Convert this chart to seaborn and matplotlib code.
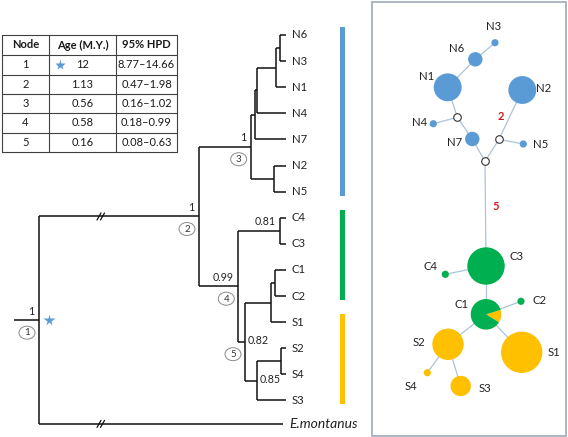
#Dated phylogeny, node age table and haplotype network.

import numpy as np
import pandas as pd
import seaborn as sns
import matplotlib
matplotlib.use("Agg")
from matplotlib import pyplot as plt
from matplotlib.patches import Wedge, Ellipse, Rectangle

# ---------------- data ----------------
table_header = ["Node", "Age (M.Y.)", "95% HPD"]
node_ids = ["1", "2", "3", "4", "5"]
node_ages = ["12", "1.13", "0.56", "0.58", "0.16"]
node_hpd = ["8.77\u201314.66", "0.47\u20131.98", "0.16\u20131.02", "0.18\u20130.99", "0.08\u20130.63"]

tips = ["N6", "N3", "N1", "N4", "N7", "N2", "N5", "C4", "C3", "C1", "C2",
        "S1", "S2", "S4", "S3", "E.montanus"]

# internal node -> (depth, children, posterior support, circled node id)
tree_nodes = {
    "root": (39, ["n2", "E.montanus"], "1", "1"),
    "n2": (199, ["n3", "n4"], "1", "2"),
    "n3": (250.7, ["a", "e"], "1", "3"),
    "a": (255, ["b", "N7"], None, None),
    "b": (257.3, ["c", "N4"], None, None),
    "c": (275.7, ["d", "N1"], None, None),
    "d": (280, ["N6", "N3"], None, None),
    "e": (274.3, ["N2", "N5"], None, None),
    "n4": (238.3, ["f", "n5"], "0.99", "4"),
    "f": (280, ["C4", "C3"], "0.81", None),
    "n5": (245, ["g", "i"], "0.82", None),
    "g": (271, ["h", "S1"], None, None),
    "h": (275, ["C1", "C2"], None, None),
    "i": (256.7, ["j", "S3"], "0.85", None),
    "j": (281, ["S2", "S4"], None, None),
}
support_right = ["n5", "i"]
circle_at = {"n5": "5"}

clades = [("N6", "N5", "#5B9BD5"), ("C4", "C2", "#00B050"), ("S1", "S3", "#FFC000")]

# haplotype network
hap_names = ["N1", "N2", "N3", "N4", "N5", "N6", "N7",
             "C2", "C3", "C4", "S1", "S2", "S3", "S4"]
hap_count = [15, 15, 1, 1, 1, 4, 4, 1, 27, 1, 33, 19, 8, 1]
hap_group = ["N"] * 7 + ["C"] * 3 + ["S"] * 4
c1_count = 18
c1_share_s = 0.135
links = [("N3", "N6"), ("N6", "N1"), ("N1", "m1"), ("m1", "N4"), ("m1", "N7"),
         ("N7", "m3"), ("m3", "m2"), ("m2", "N2"), ("m2", "N5"), ("m3", "C3"),
         ("C3", "C4"), ("C3", "C1"), ("C1", "C2"), ("C1", "S2"), ("C1", "S1"),
         ("S2", "S4"), ("S2", "S3")]
mutations = [("2", (501, 117)), ("5", (496, 207))]

# ---------------- layout ----------------
hap_pos = {"N1": (447.7, 87.3), "N2": (522.3, 90), "N3": (495, 42.7), "N4": (433.3, 123.7),
           "N5": (523.3, 144), "N6": (475.3, 59.3), "N7": (472.3, 139),
           "C1": (486, 314.3), "C2": (521, 301.3), "C3": (486, 266), "C4": (445.3, 274.3),
           "S1": (521.7, 352.3), "S2": (448, 344.3), "S3": (460.7, 386), "S4": (427.3, 372.7),
           "m1": (457.3, 117.3), "m2": (499, 139.3), "m3": (485, 161.3)}
hap_label_pos = {"N1": (427, 77), "N2": (544, 88), "N3": (494, 26), "N4": (420, 123),
                 "N5": (541, 145), "N6": (457, 49), "N7": (455, 142),
                 "C1": (462, 305), "C2": (540, 300), "C3": (517, 256), "C4": (431, 267),
                 "S1": (554, 352), "S2": (419, 343), "S3": (485, 388), "S4": (411, 387)}
colors = {"N": "#5B9BD5", "C": "#00B050", "S": "#FFC000"}
unit_r = 3.6

sns.set_theme(style="white")
plt.rcParams["font.family"] = ["Lato", "DejaVu Sans"]

fig = plt.figure(figsize=(5.68, 4.37), dpi=100)
ax = fig.add_axes([0, 0, 1, 1])
fs = 8.2

# ---- table ----
col_x = [2, 49, 116, 177]
row_y = [35, 55, 74.5, 94, 113, 132.5, 151.5]
for y in row_y:
    ax.plot([col_x[0], col_x[-1]], [y, y], color="#404040", lw=0.8)
for x in col_x:
    ax.plot([x, x], [row_y[0], row_y[-1]], color="#404040", lw=0.8)
rows = [table_header] + [list(r) for r in zip(node_ids, node_ages, node_hpd)]
for i, row in enumerate(rows):
    yc = (row_y[i] + row_y[i + 1]) / 2
    for j, txt in enumerate(row):
        xc = (col_x[j] + col_x[j + 1]) / 2
        ax.text(xc, yc, txt, ha="center", va="center", fontsize=fs - 0.2,
                fontweight="bold" if i == 0 else "normal", color="#1a1a1a")
ax.plot(60, (row_y[1] + row_y[2]) / 2, marker="*", color="#5B9BD5", ms=8, mec="none")

# ---- tree ----
tip_x, tip_y0, tip_gap = 285.7, 35, 26.1
tip_y = {t: tip_y0 + k * tip_gap for k, t in enumerate(tips[:-1])}
tip_y[tips[-1]] = tip_y[tips[-2]] + 23.5
tip_end = {t: tip_x for t in tips[:-1]}
tip_end[tips[-1]] = 283

coords = {}


def place(name):
    if name in tip_y:
        coords[name] = (tip_end[name], tip_y[name])
        return coords[name]
    depth, kids, _, _ = tree_nodes[name]
    ys = [place(k)[1] for k in kids]
    coords[name] = (depth, (ys[0] + ys[-1]) / 2)
    return coords[name]


place("root")
lc = dict(color="#111111", lw=1.1, solid_capstyle="butt")
for name, (depth, kids, sup, cid) in tree_nodes.items():
    x, y = coords[name]
    ys = [coords[k][1] for k in kids]
    ax.plot([x, x], [min(ys), max(ys)], **lc)
    for k in kids:
        ax.plot([x, coords[k][0]], [coords[k][1], coords[k][1]], **lc)
    if sup is not None:
        if name in support_right:
            ax.text(x + 2.5, y - 1, sup, ha="left", va="center", fontsize=fs - 0.5, color="#222222")
        else:
            ax.text(x - 4.5, y - 3.5, sup, ha="right", va="bottom", fontsize=fs - 0.5, color="#222222")
    cid = cid or circle_at.get(name)
    if cid is not None:
        ax.add_patch(Ellipse((x - 12, y + 12.5), 16, 13, fc="white", ec="#8a8a8a", lw=0.7))
        ax.text(x - 12, y + 12.8, cid, ha="center", va="center", fontsize=7, color="#333333")
rx, ry = coords["root"]
ax.plot([14, rx], [ry, ry], **lc)
ax.plot(rx + 10, ry, marker="*", color="#5B9BD5", ms=8.5, mec="none")
for y in [coords["n2"][1], coords[tips[-1]][1]]:
    for dx in (0, 3.5):
        ax.plot([97 + dx, 101 + dx], [y + 3.5, y - 3.5], color="#111111", lw=0.9)

for t in tips:
    is_out = t == tips[-1]
    ax.text(tip_end[t] + 6, tip_y[t], t, ha="left", va="center",
            fontsize=fs + 1.8 if is_out else fs,
            color="#222222", style="italic" if is_out else "normal")
for first, last, col in clades:
    y0, y1 = tip_y[first] - 8, tip_y[last] + 4
    ax.add_patch(Rectangle((340, y0), 4.5, y1 - y0, fc=col, ec="none"))

# ---- haplotype network ----
ax.add_patch(Rectangle((372, 1.5), 194, 434, fc="none", ec="#A5B1BC", lw=1.3))
for a, b in links:
    (x0, y0), (x1, y1) = hap_pos[a], hap_pos[b]
    ax.plot([x0, x1], [y0, y1], color="#ADC3D8", lw=0.9, zorder=1)

hap = pd.DataFrame({"name": hap_names, "count": hap_count, "group": hap_group})
hap["x"] = [hap_pos[n][0] for n in hap_names]
hap["y"] = [hap_pos[n][1] for n in hap_names]
hap["area"] = (1.44 * unit_r * np.sqrt(hap["count"])) ** 2
sns.scatterplot(data=hap, x="x", y="y", hue="group", palette=colors, size="area",
                sizes=(hap["area"].min(), hap["area"].max()),
                size_norm=(hap["area"].min(), hap["area"].max()),
                linewidth=0, legend=False, ax=ax, zorder=3)
mv = pd.DataFrame({"x": [hap_pos[m][0] for m in ("m1", "m2", "m3")],
                   "y": [hap_pos[m][1] for m in ("m1", "m2", "m3")]})
sns.scatterplot(data=mv, x="x", y="y", s=(1.44 * 3.8) ** 2, color="white",
                edgecolor="#333333", linewidth=0.8, legend=False, ax=ax, zorder=3)

c1r = unit_r * np.sqrt(c1_count)
half = 360 * c1_share_s
ax.add_patch(Wedge(hap_pos["C1"], c1r, -half * 0.35, half * 0.65, fc=colors["S"], ec="none", zorder=4))
ax.add_patch(Wedge(hap_pos["C1"], c1r, half * 0.65, 360 - half * 0.35, fc=colors["C"], ec="none", zorder=4))

for n, (x, y) in hap_label_pos.items():
    ax.text(x, y, n, ha="center", va="center", fontsize=fs, color="#222222")
for txt, (x, y) in mutations:
    ax.text(x, y, txt, ha="center", va="center", fontsize=8, color="#D0181C", fontweight="bold")

ax.set_xlim(0, 568)
ax.set_ylim(437, 0)
ax.set_axis_off()
fig.savefig("out.png", dpi=100)
